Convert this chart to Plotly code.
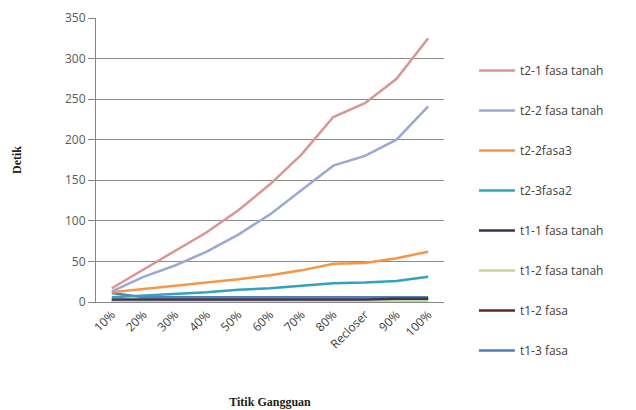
import plotly.graph_objects as go

categories = ["10%", "20%", "30%", "40%", "50%", "60%", "70%", "80%", "Recloser", "90%", "100%"]

t2_1_fasa_tanah = [17, 40, 62, 86, 113, 145, 182, 228, 245, 275, 325]
t2_2_fasa_tanah = [13, 31, 45, 62, 83, 108, 138, 168, 180, 200, 241]
t2_2fasa3 = [12, 16, 20, 24, 28, 33, 39, 47, 48, 54, 62]
t2_3fasa2 = [6, 8, 10, 12, 15, 17, 20, 23, 24, 26, 31]
t1_1_fasa_tanah = [3, 3, 3, 3, 3, 3, 3, 3, 3, 4, 4]
t1_2_fasa_tanah = [1, 1, 1, 1, 1, 1, 1, 1, 1, 1, 1]
t1_2_fasa = [2, 2, 2, 2, 2, 2, 2, 2, 2, 2, 3]
t1_3_fasa = [11, 6, 6, 6, 6, 6, 6, 6, 6, 6, 6]

series = [
    ("t2-1 fasa tanah", t2_1_fasa_tanah, "#D99694"),
    ("t2-2 fasa tanah", t2_2_fasa_tanah, "#9AA8D6"),
    ("t2-2fasa3", t2_2fasa3, "#F79646"),
    ("t2-3fasa2", t2_3fasa2, "#31A3BE"),
    ("t1-1 fasa tanah", t1_1_fasa_tanah, "#403152"),
    ("t1-2 fasa tanah", t1_2_fasa_tanah, "#C3D69B"),
    ("t1-2 fasa", t1_2_fasa, "#632523"),
    ("t1-3 fasa", t1_3_fasa, "#4F81BD"),
]

fig = go.Figure()
# low-value series are added first so the big curves don't hide them;
# legendrank keeps the legend in the listed order
for i, (name, vals, color) in reversed(list(enumerate(series))):
    fig.add_trace(go.Scatter(
        x=categories, y=vals, name=name, mode="lines",
        line=dict(color=color, width=2.5),
        legendgroup=f"g{i}", legendrank=i,
    ))

fig.update_layout(
    width=636, height=410,
    margin=dict(l=96, r=192, t=18, b=108),
    paper_bgcolor="white", plot_bgcolor="white",
    font=dict(family="Open Sans, Liberation Sans, sans-serif", size=12, color="#404040"),
    showlegend=True,
    legend=dict(
        x=1.086, y=0.866, xanchor="left", yanchor="top",
        traceorder="grouped",
        tracegroupgap=21,
        font=dict(size=12, color="#404040"),
        itemwidth=36,
        maxheight=400,
        bgcolor="rgba(0,0,0,0)",
    ),
    xaxis=dict(
        type="category", categoryorder="array", categoryarray=categories,
        range=[-0.5, 10.5], automargin=False,
        showgrid=False, showline=True, linecolor="#868686", linewidth=1,
        ticks="", tickangle=-45,
        tickfont=dict(size=12, color="#404040"),
        title=dict(text="<b>Titik Gangguan</b>",
                   font=dict(family="Liberation Serif, serif", size=12, color="#202020"),
                   standoff=46),
    ),
    yaxis=dict(
        range=[0, 350], dtick=50, automargin=False,
        showgrid=True, gridcolor="#8C8C8C", gridwidth=1,
        showline=True, linecolor="#868686", linewidth=1,
        ticks="outside", ticklen=7, tickcolor="#868686",
        tickfont=dict(size=12, color="#595959"),
        zeroline=False,
        title=dict(text="<b>Detik</b>",
                   font=dict(family="Liberation Serif, serif", size=12, color="#202020"),
                   standoff=40),
    ),
)

fig.write_html("out.html")
